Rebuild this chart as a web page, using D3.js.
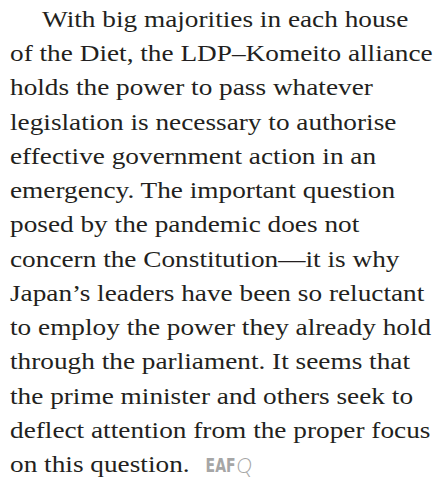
<!DOCTYPE html>
<html>
<head>
<meta charset="utf-8">
<script src="https://cdn.jsdelivr.net/npm/d3@7"></script>
<style>
  html, body { margin: 0; padding: 0; background: #fff; }
</style>
</head>
<body>
<div id="figure"></div>
<script>
var width = 444;
var height = 484;

// one entry per printed line
var lines = [
    "With big majorities in each house",
    "of the Diet, the LDP\u2013Komeito alliance",
    "holds the power to pass whatever",
    "legislation is necessary to authorise",
    "effective government action in an",
    "emergency. The important question",
    "posed by the pandemic does not",
    "concern the Constitution\u2014it is why",
    "Japan\u2019s leaders have been so reluctant",
    "to employ the power they already hold",
    "through the parliament. It seems that",
    "the prime minister and others seek to",
    "deflect attention from the proper focus",
    "on this question."
];
var indents = [1, 0, 0, 0, 0, 0, 0, 0, 0, 0, 0, 0, 0, 0];
var logoParts = ["EAF", "Q"];

var svg = d3.select("#figure")
    .append("svg")
    .attr("width", width)
    .attr("height", height);

var y = d3.scaleLinear()
    .domain([0, lines.length - 1])
    .range([27, 472]);

var x = d3.scaleLinear()
    .domain([0, 1])
    .range([10, 42]);

var body = svg.append("g")
    .attr("font-family", "'Liberation Serif', serif")
    .attr("font-size", 23.5)
    .attr("fill", "#231f20");

var texts = body.selectAll("text")
    .data(lines)
    .enter()
    .append("text")
    .attr("x", (d, i) => x(indents[i]))
    .attr("y", (d, i) => y(i))
    .text(d => d);

// stretch to the width of the longest set line
var ref = texts.filter((d, i) => i === 1).node().getComputedTextLength();
var k = 423 / ref;
texts.attr("transform", (d, i) => {
    var x0 = x(indents[i]);
    return `translate(${x0},0) scale(${k},1) translate(${-x0},0)`;
});

var last = texts.filter((d, i) => i === lines.length - 1).node();
var endX = x(0) + last.getComputedTextLength() * k;
var base = y(lines.length - 1);

var logo = svg.append("g")
    .attr("fill", "#a6a6a6");
var eaf = logo.append("text")
    .attr("x", 0)
    .attr("y", 0)
    .attr("font-family", "'DejaVu Sans Condensed', 'DejaVu Sans', sans-serif")
    .attr("font-weight", "bold")
    .attr("font-size", 20)
    .text(logoParts[0]);
var ew = eaf.node().getComputedTextLength();
var ek = 30 / ew;
eaf.attr("transform", `translate(${endX + 16},${base}) scale(${ek},1)`);
logo.append("text")
    .attr("x", endX + 16 + 31)
    .attr("y", base + 1)
    .attr("font-family", "Lato, sans-serif")
    .attr("font-weight", 300)
    .attr("font-style", "italic")
    .attr("font-size", 21)
    .text(logoParts[1]);
</script>
</body>
</html>
